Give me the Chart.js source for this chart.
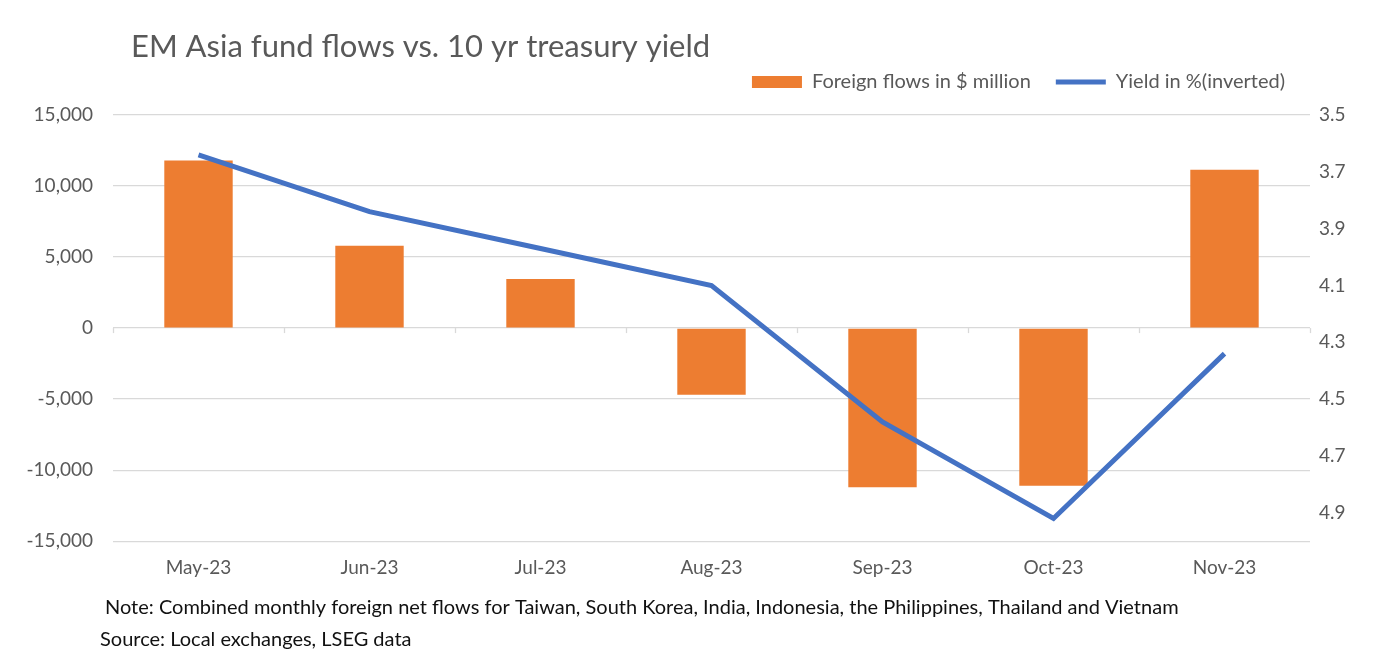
<!DOCTYPE html>
<html>
<head>
<meta charset="utf-8">
<title>EM Asia fund flows vs. 10 yr treasury yield</title>
<script src="https://cdn.jsdelivr.net/npm/chart.js@4.4.1/dist/chart.umd.min.js"></script>
<style>
  html, body { margin: 0; padding: 0; background: #fff; }
  #wrap { position: relative; width: 1374px; height: 671px; }
</style>
</head>
<body>
<div id="wrap"><canvas id="flowsChart" width="1374" height="671"></canvas></div>
<script>
// chart data
var months = ['May-23', 'Jun-23', 'Jul-23', 'Aug-23', 'Sep-23', 'Oct-23', 'Nov-23'];
var flows = [11800, 5800, 3450, -4700, -11200, -11100, 11150];
var yields = [3.64, 3.84, 3.97, 4.10, 4.58, 4.92, 4.34];
var flowTicks = [-15000, -10000, -5000, 0, 5000, 10000, 15000];
var yieldTicks = [3.5, 3.7, 3.9, 4.1, 4.3, 4.5, 4.7, 4.9];

var titleText = 'EM Asia fund flows vs. 10 yr treasury yield';
var noteText = 'Note: Combined monthly foreign net flows for Taiwan, South Korea, India, Indonesia, the Philippines, Thailand and Vietnam';
var sourceText = 'Source: Local exchanges, LSEG data';

var fontFamily = 'Lato, "Open Sans", sans-serif';
var grey = '#595959';
var gridColor = '#d9d9d9';

// title, notes and the little category ticks on the zero line
var extrasPlugin = {
    id: 'extras',
    afterDraw: function (chart) {
        var ctx = chart.ctx;
        var x = chart.scales.x;
        var y = chart.scales.y;
        ctx.save();
        ctx.strokeStyle = gridColor;
        ctx.lineWidth = 1.3;
        var zero = y.getPixelForValue(0);
        for (var i = 0; i <= months.length; i++) {
            var px = Math.round(x.getPixelForValue(i - 0.5)) + 0.5;
            ctx.beginPath();
            ctx.moveTo(px, zero);
            ctx.lineTo(px, zero + 5);
            ctx.stroke();
        }
        ctx.textBaseline = 'middle';
        ctx.textAlign = 'left';
        ctx.fillStyle = grey;
        ctx.font = '31px ' + fontFamily;
        ctx.fillText(titleText, 131, 47);
        ctx.fillStyle = '#111';
        ctx.font = '20px ' + fontFamily;
        ctx.fillText(noteText, 105, 608);
        ctx.fillText(sourceText, 100, 640);
        ctx.restore();
    }
};

var ctx = document.getElementById('flowsChart');
var flowsChart = new Chart(ctx, {
    type: 'bar',
    data: {
        labels: months,
        datasets: [{
            type: 'bar',
            label: 'Foreign flows in $ million',
            data: flows,
            backgroundColor: '#ED7D31',
            borderWidth: 0,
            barPercentage: 0.4,
            categoryPercentage: 1,
            pointStyle: 'rect',
            yAxisID: 'y',
            order: 1
        }, {
            type: 'line',
            label: 'Yield in %(inverted)',
            data: yields,
            borderColor: '#4472C4',
            backgroundColor: '#4472C4',
            borderWidth: 5,
            pointRadius: 0,
            tension: 0,
            pointStyle: 'line',
            yAxisID: 'y2',
            order: 0
        }]
    },
    options: {
        responsive: false,
        animation: false,
        devicePixelRatio: 1,
        layout: { padding: { top: 47, bottom: 85, left: 0, right: 0 } },
        plugins: {
            title: { display: false },
            // empty subtitle under the legend, only used as a gap
            subtitle: {
                display: true,
                text: '',
                weight: 500,
                font: { size: 10 },
                padding: { top: 1, bottom: 0 }
            },
            tooltip: { enabled: false },
            legend: {
                position: 'top',
                align: 'end',
                fullSize: false,
                labels: {
                    usePointStyle: true,
                    pointStyleWidth: 50,
                    boxHeight: 12,
                    padding: 25,
                    color: grey,
                    font: { family: fontFamily, size: 20 },
                    sort: function (a, b) { return a.datasetIndex - b.datasetIndex; }
                }
            }
        },
        scales: {
            x: {
                grid: { display: false },
                border: { display: false },
                ticks: { color: grey, font: { family: fontFamily, size: 19 }, padding: 7 }
            },
            y: {
                position: 'left',
                min: -15000,
                max: 15000,
                afterBuildTicks: function (scale) {
                    scale.ticks = flowTicks.map(function (v) { return { value: v }; });
                },
                afterFit: function (scale) { scale.width = 113; },
                grid: { color: gridColor, lineWidth: 1.3, drawTicks: false },
                border: { display: false },
                ticks: {
                    color: grey,
                    padding: 20,
                    font: { family: fontFamily, size: 19 },
                    callback: function (v) { return Number(v).toLocaleString('en-US'); }
                }
            },
            y2: {
                position: 'right',
                reverse: true,
                min: 3.5,
                max: 5.0,
                afterBuildTicks: function (scale) {
                    scale.ticks = yieldTicks.map(function (v) { return { value: v }; });
                },
                afterFit: function (scale) { scale.width = 64; },
                grid: { display: false, drawTicks: false },
                border: { display: false },
                ticks: {
                    color: grey,
                    padding: 9,
                    font: { family: fontFamily, size: 19 },
                    callback: function (v) { return Number(v).toFixed(1); }
                }
            }
        }
    },
    plugins: [extrasPlugin]
});
</script>
</body>
</html>
